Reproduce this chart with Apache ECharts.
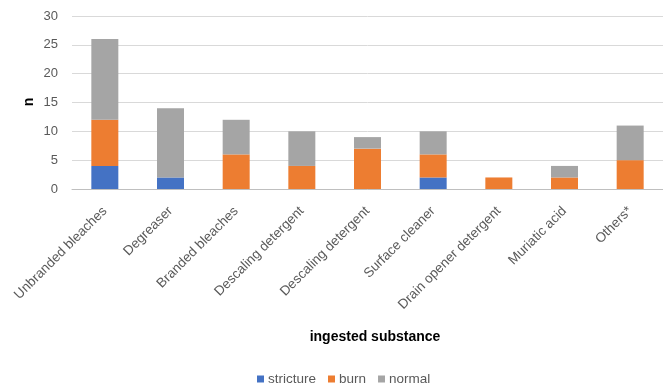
<!DOCTYPE html>
<html>
<head>
<meta charset="utf-8">
<script src="https://cdn.jsdelivr.net/npm/echarts@6/dist/echarts.min.js"></script>
<style>
  html, body { margin: 0; padding: 0; background: #fff; }
  #chart { width: 663px; height: 387px; }
</style>
</head>
<body>
<div id="chart"></div>
<script>
// Ingested substances and outcome counts (stacked)
const categories = [
  'Unbranded bleaches', 'Degreaser', 'Branded bleaches', 'Descaling detergent',
  'Descaling detergent', 'Surface cleaner', 'Drain opener detergent',
  'Muriatic acid', 'Others*'
];
const stricture = [4, 2, 0, 0, 0, 2, 0, 0, 0];
const burn      = [8, 0, 6, 4, 7, 4, 2, 2, 5];
const normal    = [14, 12, 6, 6, 2, 4, 0, 2, 6];
const yTicks = { min: 0, max: 30, interval: 5 };

const font = 'Liberation Sans, Arial, sans-serif';
const textGrey = '#595959';

const chart = echarts.init(document.getElementById('chart'), null, { renderer: 'canvas' });

function bar(name, data, color) {
  return {
    name, type: 'bar', stack: 'total', data,
    barWidth: 27,
    itemStyle: { color },
    emphasis: { disabled: true }
  };
}

chart.setOption({
  animation: false,
  title: {
    text: 'ingested substance',
    left: 370, top: 325,
    textAlign: 'center',
    textStyle: { fontFamily: font, fontSize: 14, fontWeight: 'bold', color: '#000' }
  },
  // vertical axis title
  graphic: [{
    type: 'text',
    x: 29, y: 102,
    rotation: Math.PI / 2,
    style: {
      text: 'n',
      fontFamily: font, fontSize: 14, fontWeight: 'bold', fill: '#000',
      textAlign: 'center', textVerticalAlign: 'middle'
    }
  }],
  legend: {
    top: 367, left: 252,
    itemWidth: 7, itemHeight: 7, itemGap: 12,
    icon: 'rect',
    textStyle: { fontFamily: font, fontSize: 13.5, color: textGrey, padding: [0, 0, 0, -1] },
    data: ['stricture', 'burn', 'normal']
  },
  grid: { left: 72, top: 16, width: 596, bottom: 198, containLabel: false },
  xAxis: {
    type: 'category',
    data: categories,
    axisLine: { lineStyle: { color: '#BFBFBF', width: 1 } },
    axisTick: { show: false },
    axisLabel: {
      rotate: 45, interval: 0, margin: 20,
      fontFamily: font, fontSize: 13.5, color: textGrey
    }
  },
  yAxis: {
    type: 'value',
    min: yTicks.min, max: yTicks.max, interval: yTicks.interval,
    axisLine: { show: false },
    axisTick: { show: false },
    splitLine: { lineStyle: { color: '#D9D9D9', width: 1 } },
    axisLabel: { fontFamily: font, fontSize: 13, color: textGrey, margin: 14 }
  },
  series: [
    bar('stricture', stricture, '#4472C4'),
    bar('burn', burn, '#ED7D31'),
    bar('normal', normal, '#A5A5A5')
  ]
});
</script>
</body>
</html>
